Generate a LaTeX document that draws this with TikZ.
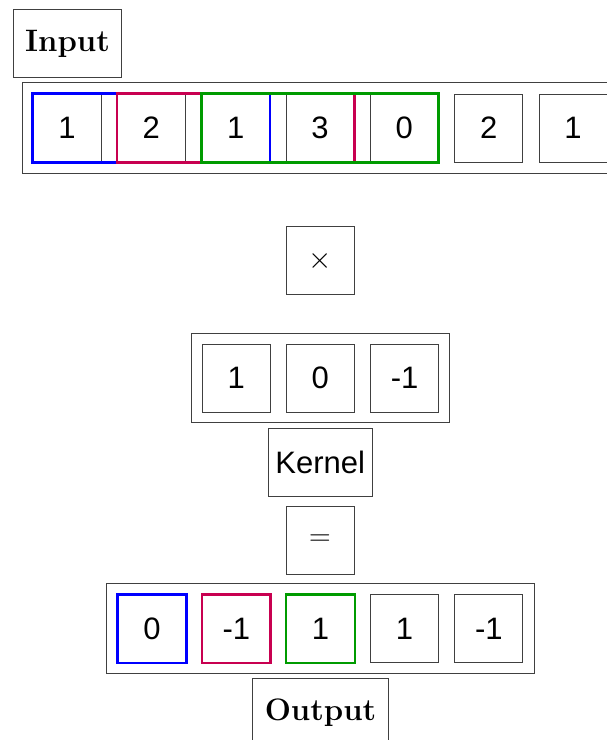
\RequirePackage{fix-cm}
\documentclass[tikz,border=0pt]{standalone}
\usepackage{fontspec}
\newfontfamily\numfont{Liberation Sans}
\usetikzlibrary{positioning}
\definecolor{winblue}{RGB}{0,0,255}
\definecolor{winred}{RGB}{200,0,80}
\definecolor{wingreen}{RGB}{0,155,0}
\tikzset{
  cell/.style={draw=black!75, line width=0.8pt, minimum width=68pt, minimum height=68pt, inner sep=0pt, font=\numfont\fontsize{31}{36}\selectfont},
  opbox/.style={draw=black!75, line width=0.8pt, minimum width=68pt, minimum height=68pt, inner sep=0pt, font=\fontsize{30}{36}\selectfont},
  frame/.style={draw=black!75, line width=0.8pt, inner sep=0pt},
  labelbox/.style={draw=black!75, line width=0.8pt, minimum height=68pt, inner sep=0pt, font=\bfseries\fontsize{31}{36}\selectfont},
  sanslabel/.style={draw=black!75, line width=0.8pt, minimum height=68pt, inner sep=0pt, font=\numfont\fontsize{31}{36}\selectfont},
  win/.style={line width=2.6pt},
}
\begin{document}
\begin{tikzpicture}[x=1pt,y=-1pt]
\useasboundingbox (0,0) rectangle (607,740);
\clip (0,0) rectangle (607,740);
% Input
\node[labelbox, minimum width=108pt] (inlab) at (67.5,43.5) {Input};
\node[frame, minimum width=595pt, minimum height=90.3pt] (inframe) at (320,128) {};
\foreach \v [count=\i] in {1,2,1,3,0,2,1} {
  \node[cell] (in\i) at ({67+84.33*(\i-1)},128) {\v};
}
\draw[win, winblue] (in1.north west) rectangle (in3.south east);
\draw[win, winred] (in2.north west) rectangle (in4.south east);
\draw[win, wingreen] (in3.north west) rectangle (in5.south east);
% times
\node[opbox] (times) at (320,260.5) {$\times$};
% Kernel
\node[frame, minimum width=258.3pt, minimum height=89.4pt] (kframe) at (320.2,378) {};
\node[cell] (k1) at (236.3,378.3) {1};
\node[cell] (k2) at (320.2,378.3) {0};
\node[cell] (k3) at (404.7,378.3) {-1};
\node[sanslabel, minimum width=104.7pt] (klab) at (320.3,462.7) {Kernel};
% equals
\node[opbox] (eq) at (320,540.5) {$=$};
% Output
\node[frame, minimum width=427.3pt, minimum height=90.4pt] (oframe) at (320.3,628.5) {};
\node[cell] (o1) at (152,628.7) {0};
\node[cell] (o2) at (236.3,628.7) {-1};
\node[cell] (o3) at (320.5,628.7) {1};
\node[cell] (o4) at (404.5,628.7) {1};
\node[cell] (o5) at (488.8,628.7) {-1};
\draw[win, winblue] (o1.north west) rectangle (o1.south east);
\draw[win, winred] (o2.north west) rectangle (o2.south east);
\draw[win, wingreen] (o3.north west) rectangle (o3.south east);
\node[labelbox, minimum width=135.6pt] (olab) at (320.5,712.3) {Output};
\end{tikzpicture}
\end{document}
